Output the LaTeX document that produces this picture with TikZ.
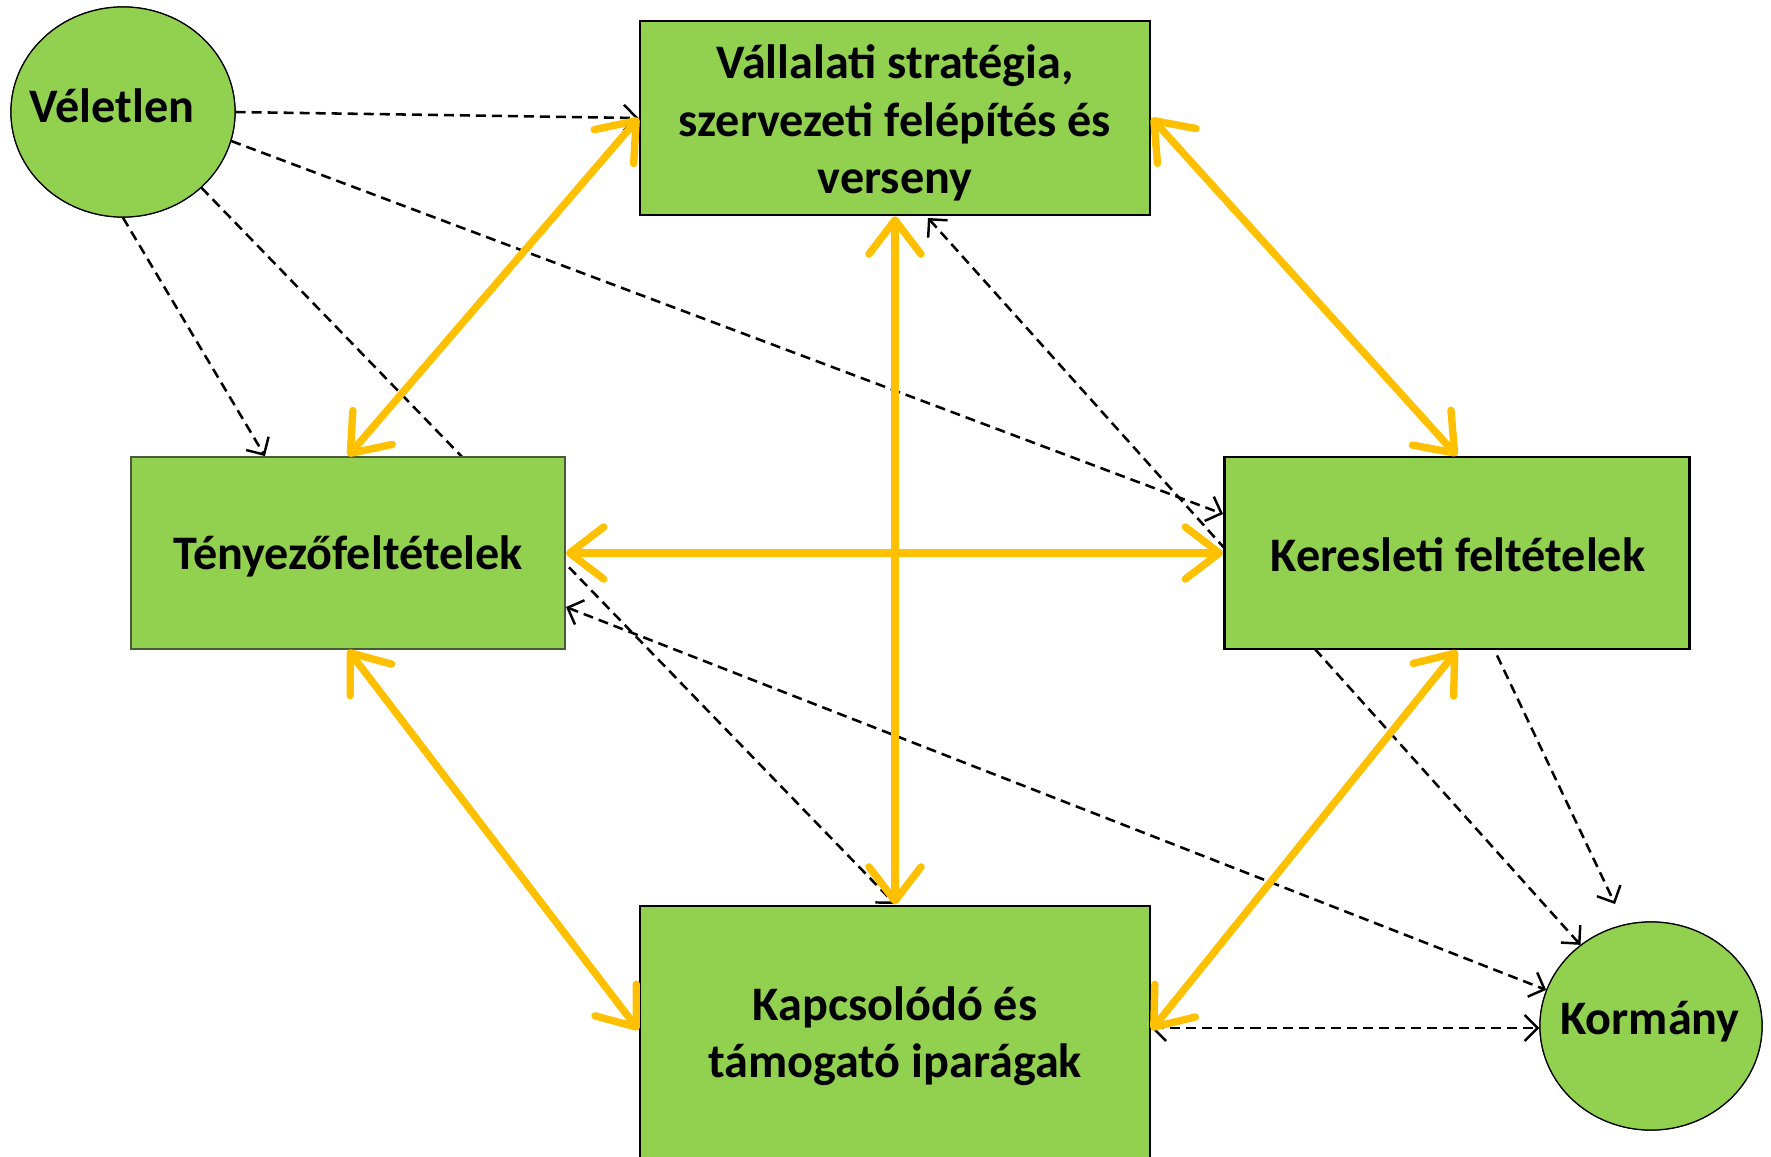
\documentclass[tikz,border=0pt]{standalone}
\usepackage{fontspec}
\setmainfont{Carlito}
\usetikzlibrary{arrows.meta,shapes.geometric,calc}
\definecolor{boxgreen}{HTML}{92D050}
\definecolor{gold}{HTML}{FFC000}
\definecolor{tborder}{HTML}{4A5A38}
\begin{document}
\begin{tikzpicture}[x=0.01cm,y=-0.01cm,
  lbl/.style={font=\fontsize{13.7}{16.3}\selectfont\bfseries,align=center,text=black},
  gbox/.style={lbl,rectangle,fill=boxgreen,draw=black,line width=0.75pt,inner sep=0pt},
  gell/.style={ellipse,fill=boxgreen,draw=black,line width=0.35pt,inner sep=0pt},
  gold2/.style={draw=gold,line width=2.1pt,line cap=round,
    {Straight Barb[length=0.34cm,width=0.52cm,line width=2.1pt,round]}-{Straight Barb[length=0.34cm,width=0.52cm,line width=2.1pt,round]}},
  dsh/.style={draw=black,line width=0.72pt,dash pattern=on 0.1cm off 0.06cm},
  tipR/.style={-{Straight Barb[length=0.13cm,width=0.26cm,line width=0.7pt]}},
  tipB/.style={{Straight Barb[length=0.13cm,width=0.26cm,line width=0.7pt]}-{Straight Barb[length=0.13cm,width=0.26cm,line width=0.7pt]}}]
\useasboundingbox (0,0) rectangle (1771,1157);
% ellipses (placed first so that connectors hidden behind boxes can start from them)
\path (123,112) node[gell,minimum width=2.24cm,minimum height=2.10cm] (vel) {};
\path (1651,1026) node[gell,minimum width=2.22cm,minimum height=2.08cm] (kor) {};
\coordinate (kortop) at (1615,904);
\coordinate (kapn) at (895,904);
\coordinate (vallse) at (928,218);
% dashed connectors that pass behind the boxes
\draw[dsh,tipR] (vel.-44) -- (kapn);
\draw[dsh,tipB] (vallse) -- (kor.131);
% boxes
\node[gbox,minimum width=5.10cm,minimum height=1.94cm] (vall) at (895,118) {};
\node[lbl] (vallt) at (895,123) {Vállalati stratégia,\\szervezeti felépítés és\\verseny};
\node[gbox,draw=tborder,line width=0.5pt,minimum width=4.34cm,minimum height=1.92cm] (ten) at (348,553) {};
\node[lbl] (tent) at (348,556) {Tényezőfeltételek};
\node[gbox,minimum width=4.65cm,minimum height=1.92cm] (ker) at (1457,553) {};
\node[lbl] (kert) at (1458,555) {Keresleti feltételek};
\node[gbox,minimum width=5.10cm,minimum height=2.60cm] (kap) at (895,1036) {};
\node[lbl] (kapt) at (895,1036) {Kapcsolódó és\\támogató iparágak};
% ellipses again on top, with their texts
\path (123,112) node[gell,minimum width=2.24cm,minimum height=2.10cm] (vel2) {};
\node[lbl] (velt) at (112,106) {Véletlen};
\path (1651,1026) node[gell,minimum width=2.22cm,minimum height=2.08cm] (kor2) {};
\node[lbl] (kort) at (1650,1022) {Kormány};
% remaining dashed connectors
\draw[dsh,tipR] (vel.east) -- (vall.west);
\draw[dsh,tipR] (vel.-15) -- ([yshift=0.39cm]ker.west);
\draw[dsh,tipR] (vel.south) -- ([xshift=-0.83cm]ten.north);
\draw[dsh,tipB] ([yshift=-0.54cm]ten.east) -- (kor.161);
\draw[dsh,tipR] ([xshift=0.4cm,yshift=-0.05cm]ker.south) -- (kortop);
\draw[dsh,tipB] (kap.east |- 0,1028) -- (kor.west |- 0,1028);
% gold double arrows
\draw[gold2] (vall.west) -- (ten.north);
\draw[gold2] (vall.east) -- (ker.north);
\draw[gold2] (vall.south) -- (kap.north);
\draw[gold2] (ten.east) -- (ker.west);
\draw[gold2] (ten.south) -- (kap.west |- 0,1030);
\draw[gold2] (ker.south) -- (kap.east |- 0,1030);
\end{tikzpicture}
\end{document}
